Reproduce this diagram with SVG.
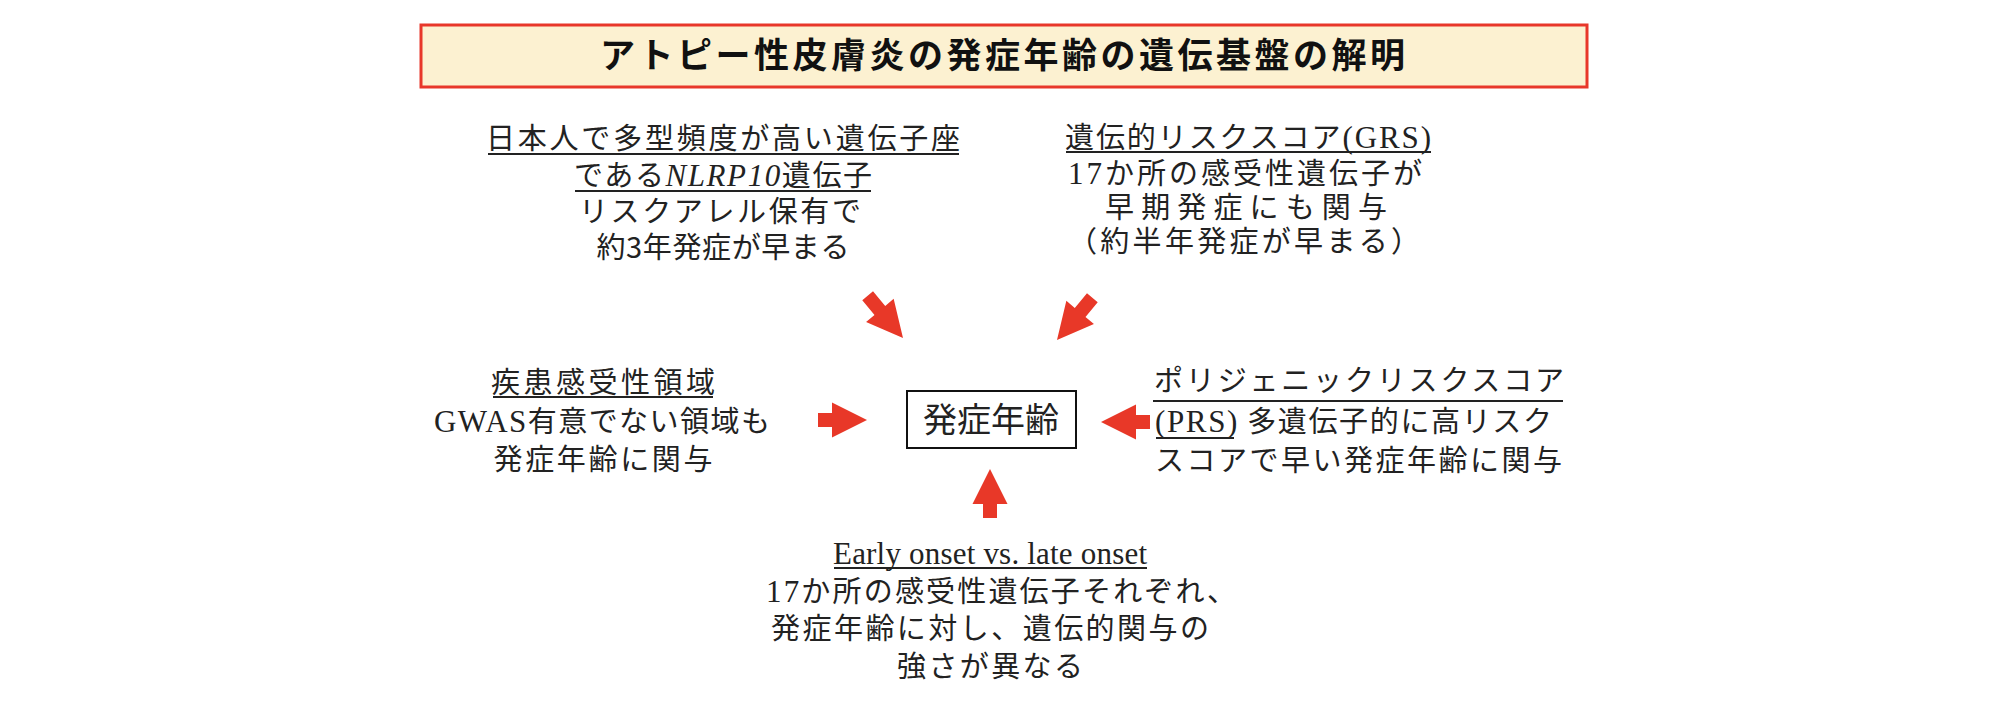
<svg xmlns="http://www.w3.org/2000/svg" width="2005" height="724" viewBox="0 0 2005 724">
<style>
.t { font-family: "Noto Sans CJK JP", sans-serif; font-size: 29px; fill: #222; }
.s { font-family: "Liberation Serif", "Noto Sans CJK JP", serif; font-size: 31px; }
.i { font-style: italic; }
.u { stroke: #222; stroke-width: 2; }
.ttl { font-family: "Noto Sans CJK JP", sans-serif; font-size: 35px; font-weight: bold; fill: #111; }
.ctr { font-family: "Noto Sans CJK JP", sans-serif; font-size: 34px; fill: #222; }
.arrow { fill: #E83828; }
</style>
<defs>
<path id="a" d="M0,0 L-35,-17.5 L-35,-7 L-49,-7 L-49,7 L-35,7 L-35,17.5 Z"/>
<path id="ad" d="M0,0 L-36,-18 L-36,-7 L-55,-7 L-55,7 L-36,7 L-36,18 Z"/>
</defs>
<rect width="2005" height="724" fill="#fff"/>

<g id="title">
<rect x="421" y="25" width="1166" height="62" fill="#FCF1D1" stroke="#E8372A" stroke-width="3"/>
<text class="ttl" x="600" y="68" textLength="805" lengthAdjust="spacing">アトピー性皮膚炎の発症年齢の遺伝基盤の解明</text>
</g>

<g id="center">
<rect x="907" y="391" width="169" height="57" fill="#fff" stroke="#111" stroke-width="2"/>
<text class="ctr" x="991" y="432" text-anchor="middle" textLength="136" lengthAdjust="spacing">発症年齢</text>
</g>

<g id="node-nlrp10">
<text class="t" x="723" y="149" text-anchor="middle" textLength="474" lengthAdjust="spacing">日本人で多型頻度が高い遺伝子座</text>
<line class="u" x1="488" y1="154" x2="959" y2="154"/>
<text class="t" x="723" y="186" text-anchor="middle" textLength="298" lengthAdjust="spacing">である<tspan class="s i">NLRP10</tspan>遺伝子</text>
<line class="u" x1="575" y1="191" x2="871" y2="191"/>
<text class="t" x="720" y="222" text-anchor="middle" textLength="282" lengthAdjust="spacing">リスクアレル保有で</text>
<text class="t" x="723" y="258" text-anchor="middle" textLength="253" lengthAdjust="spacing">約3年発症が早まる</text>
</g>

<g id="node-grs">
<text class="t" x="1248" y="148" text-anchor="middle" textLength="366" lengthAdjust="spacing">遺伝的リスクスコア<tspan class="s">(GRS)</tspan></text>
<line class="u" x1="1066" y1="152" x2="1431" y2="152"/>
<text class="t" x="1245" y="184" text-anchor="middle" textLength="354" lengthAdjust="spacing"><tspan class="s">17</tspan>か所の感受性遺伝子が</text>
<text class="t" x="1246" y="218" text-anchor="middle" textLength="282" lengthAdjust="spacing">早期発症にも関与</text>
<text class="t" x="1244" y="252" text-anchor="middle" textLength="352" lengthAdjust="spacing">（約半年発症が早まる）</text>
</g>

<g id="node-region">
<text class="t" x="603" y="393" text-anchor="middle" textLength="224" lengthAdjust="spacing">疾患感受性領域</text>
<line class="u" x1="493" y1="397" x2="713" y2="397"/>
<text class="t" x="602" y="432" text-anchor="middle" textLength="336" lengthAdjust="spacing"><tspan class="s">GWAS</tspan>有意でない領域も</text>
<text class="t" x="603" y="470" text-anchor="middle" textLength="219" lengthAdjust="spacing">発症年齢に関与</text>
</g>

<g id="node-prs">
<text class="t" x="1154" y="391" textLength="410" lengthAdjust="spacing">ポリジェニックリスクスコア</text>
<line class="u" x1="1153" y1="401" x2="1563" y2="401"/>
<text class="t" x="1155" y="432" textLength="397" lengthAdjust="spacing"><tspan class="s">(PRS)</tspan> 多遺伝子的に高リスク</text>
<line class="u" x1="1156" y1="438" x2="1234" y2="438"/>
<text class="t" x="1155" y="471" textLength="407" lengthAdjust="spacing">スコアで早い発症年齢に関与</text>
</g>

<g id="node-onset">
<text class="s" x="990" y="564" text-anchor="middle" textLength="314" lengthAdjust="spacing" fill="#222">Early onset vs. late onset</text>
<line class="u" x1="834" y1="568" x2="1147" y2="568"/>
<text class="t" x="766" y="602" textLength="470" lengthAdjust="spacing"><tspan class="s">17</tspan>か所の感受性遺伝子それぞれ、</text>
<text class="t" x="771" y="639" textLength="438" lengthAdjust="spacing">発症年齢に対し、遺伝的関与の</text>
<text class="t" x="990" y="677" text-anchor="middle" textLength="186" lengthAdjust="spacing">強さが異なる</text>
</g>

<g id="connectors" class="arrow">
<use href="#ad" transform="translate(903,338) rotate(50)"/>
<use href="#ad" transform="translate(1057,340) rotate(130)"/>
<use href="#a" transform="translate(867,420)"/>
<use href="#a" transform="translate(1101,422) rotate(180)"/>
<use href="#a" transform="translate(990,469) rotate(-90)"/>
</g>
</svg>
